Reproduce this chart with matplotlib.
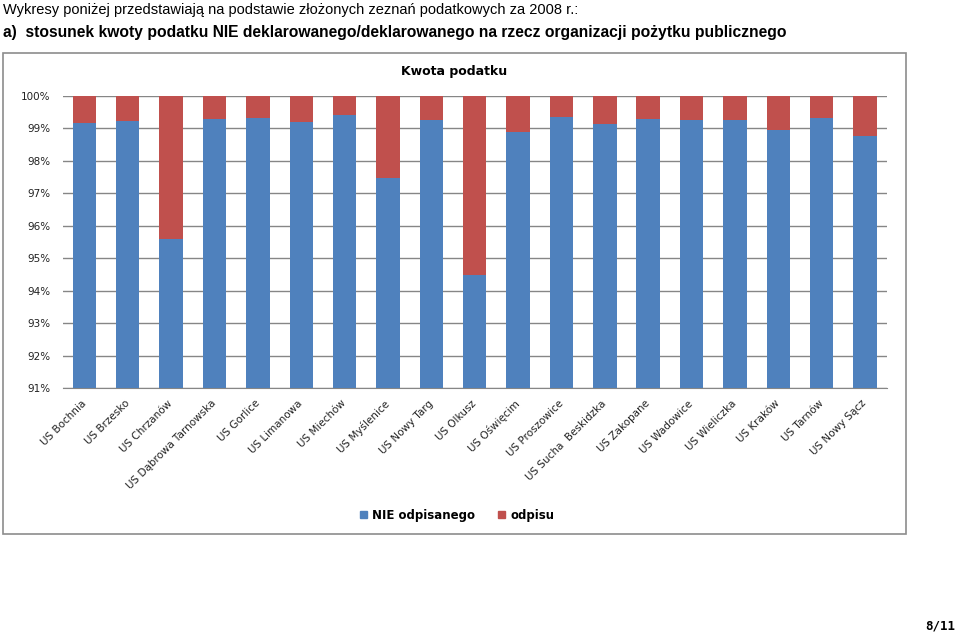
import matplotlib
matplotlib.use('Agg')
import matplotlib.pyplot as plt
from matplotlib.patches import Rectangle, Patch
from matplotlib.ticker import PercentFormatter, MultipleLocator

# dane: udzial kwoty NIE odpisanej (reszta do 100% to odpis 1%)
urzedy = ['US Bochnia', 'US Brzesko', 'US Chrzanów', 'US Dąbrowa Tarnowska', 'US Gorlice',
          'US Limanowa', 'US Miechów', 'US Myślenice', 'US Nowy Targ', 'US Olkusz',
          'US Oświęcim', 'US Proszowice', 'US Sucha  Beskidzka', 'US Zakopane', 'US Wadowice',
          'US Wieliczka', 'US Kraków', 'US Tarnów', 'US Nowy Sącz']
nie_odpisanego = [99.16, 99.23, 95.59, 99.29, 99.33, 99.19, 99.40, 97.47, 99.26, 94.47,
                  98.90, 99.35, 99.15, 99.28, 99.26, 99.27, 98.94, 99.33, 98.77]
odpisu = [100 - v for v in nie_odpisanego]

BLUE = '#4F81BD'
RED = '#C0504D'
GRID = '#868686'
W, H = 960, 634

fig = plt.figure(figsize=(9.6, 6.34), dpi=100)


def fx(px):
    return px / W


def fy(py):
    return 1 - py / H


def fit_width(t, width_px):
    r = fig.canvas.get_renderer()
    bb = t.get_window_extent(r)
    t.set_fontsize(t.get_fontsize() * width_px / bb.width)


# naglowek strony
t1 = fig.text(fx(3), fy(10), 'Wykresy poniżej przedstawiają na podstawie złożonych zeznań podatkowych za 2008 r.:',
              family='Liberation Sans', fontsize=11, va='center', ha='left')
t2 = fig.text(fx(3), fy(32), 'a)  stosunek kwoty podatku NIE deklarowanego/deklarowanego na rzecz organizacji pożytku publicznego',
              family='Liberation Sans', weight='bold', fontsize=11, va='center', ha='left')
fit_width(t1, 570)
fit_width(t2, 785)

# ramka wykresu
fig.patches.append(Rectangle((fx(3), fy(534)), fx(903), 481 / H, transform=fig.transFigure,
                             fill=False, edgecolor='#8c8c8c', linewidth=1.2))

ax = fig.add_axes([fx(62.7), fy(388), fx(824), 292 / H])
x = range(len(urzedy))
ax.bar(x, [v - 91 for v in nie_odpisanego], bottom=91, width=0.54, color=BLUE, label='NIE odpisanego', zorder=3)
ax.bar(x, odpisu, bottom=nie_odpisanego, width=0.54, color=RED, label='odpisu', zorder=3)

ax.set_ylim(91, 100)
ax.set_xlim(-0.5, len(urzedy) - 0.5)
ax.yaxis.set_major_locator(MultipleLocator(1))
ax.yaxis.set_major_formatter(PercentFormatter(decimals=0))
ax.grid(axis='y', color=GRID, linewidth=1, zorder=0)
for s in ['left', 'right', 'top']:
    ax.spines[s].set_visible(False)
ax.spines['bottom'].set_color(GRID)
ax.tick_params(axis='y', length=0, pad=9, labelsize=7.5, labelcolor='#222222')
ax.tick_params(axis='x', length=0, pad=10, labelsize=7.5, labelcolor='#222222')
ax.set_xticks(list(x))
ax.set_xticklabels(urzedy, rotation=45, ha='right', va='center', rotation_mode='anchor')

fig.text(fx(454.5), fy(72), 'Kwota podatku', weight='bold', fontsize=9, ha='center', va='center')

handles = [Patch(color=BLUE, label='NIE odpisanego'), Patch(color=RED, label='odpisu')]
fig.legend(handles=handles, loc='center', bbox_to_anchor=(fx(457), fy(515)), ncol=2, frameon=False,
           handlelength=0.6, handleheight=0.6, handletextpad=0.4, columnspacing=2.0,
           prop={'weight': 'bold', 'size': 8.5})

fig.text(fx(955), fy(626), '8/11', family='DejaVu Sans Mono', weight='bold', fontsize=9,
         ha='right', va='center')

fig.savefig('out.png', dpi=100)
